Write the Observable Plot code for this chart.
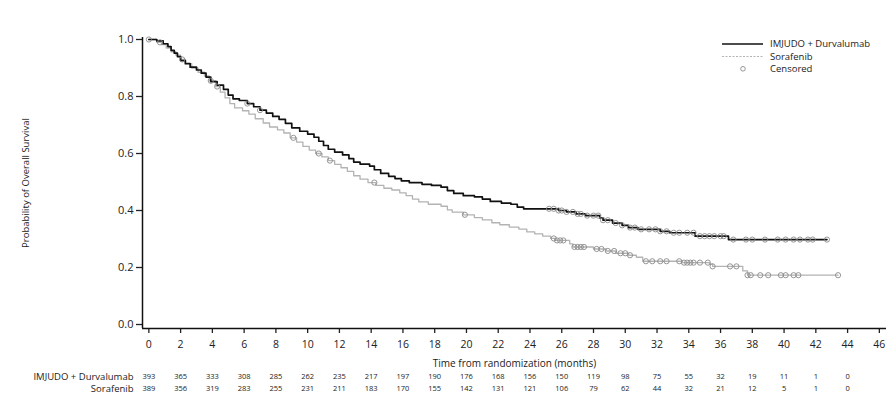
<!DOCTYPE html>
<html><head><meta charset="utf-8">
<script src="https://cdn.jsdelivr.net/npm/d3@7"></script>
<script src="https://cdn.jsdelivr.net/npm/@observablehq/plot@0.6"></script>
<style>body{margin:0;background:#fff;} #chart{width:896px;height:398px;}</style>
</head><body><div id="chart"></div>
<script>
// ---- data ----
const imjudoTimes = [0,0.5,0.9,1.2,1.4,1.6,1.8,2.0,2.3,2.6,3.0,3.3,3.6,3.9,4.3,4.7,5.0,5.3,5.7,6.2,6.6,7.0,7.4,7.8,8.2,8.6,9.0,9.5,10.0,10.4,10.7,11.0,11.3,11.7,12.2,12.6,12.9,13.3,13.9,14.2,14.6,15.1,15.5,15.9,16.4,17.2,17.8,18.4,18.8,19.2,19.8,20.5,21.0,21.5,22.2,22.8,23.2,23.6,25.8,26.3,26.9,27.5,28.4,28.6,29.2,29.8,30.2,30.8,32.2,32.8,34.4,36.5,42.7];
const imjudoSurv  = [1.0,0.995,0.985,0.975,0.962,0.952,0.94,0.926,0.915,0.903,0.893,0.882,0.868,0.852,0.84,0.825,0.805,0.792,0.786,0.775,0.764,0.752,0.742,0.73,0.72,0.706,0.69,0.678,0.668,0.657,0.643,0.628,0.615,0.605,0.595,0.582,0.57,0.563,0.556,0.543,0.53,0.52,0.512,0.504,0.498,0.492,0.488,0.482,0.47,0.46,0.452,0.448,0.44,0.432,0.426,0.422,0.412,0.406,0.4,0.395,0.388,0.382,0.374,0.366,0.356,0.348,0.34,0.334,0.327,0.322,0.31,0.298,0.298];
const sorafenibTimes = [0,0.5,0.8,1.1,1.4,1.7,2.0,2.3,2.7,3.1,3.5,3.8,4.2,4.5,4.8,5.1,5.4,5.9,6.3,6.7,7.2,7.6,8.1,8.5,8.9,9.3,9.7,10.1,10.5,10.9,11.3,11.7,12.1,12.5,12.9,13.3,13.8,14.3,14.8,15.3,15.8,16.2,16.6,17.0,17.6,18.4,18.8,19.1,19.8,20.5,21.0,21.6,22.1,22.7,23.3,23.8,24.3,24.8,25.3,25.6,26.5,26.7,28.0,28.8,29.4,30.2,30.7,31.1,33.6,35.3,35.5,37.4,37.7,43.4];
const sorafenibSurv  = [1.0,0.99,0.982,0.97,0.957,0.945,0.93,0.915,0.9,0.885,0.872,0.855,0.835,0.815,0.795,0.775,0.76,0.75,0.738,0.722,0.707,0.693,0.683,0.672,0.655,0.64,0.625,0.612,0.6,0.588,0.575,0.562,0.55,0.537,0.522,0.51,0.498,0.488,0.478,0.472,0.462,0.452,0.44,0.43,0.422,0.415,0.402,0.394,0.385,0.375,0.367,0.357,0.35,0.342,0.335,0.325,0.318,0.31,0.302,0.295,0.283,0.272,0.265,0.258,0.25,0.243,0.236,0.222,0.217,0.212,0.204,0.188,0.173,0.173];
const imjudoCensored = [6.2,7.0,25.2,25.5,25.8,26.0,26.3,26.7,27.0,27.2,27.6,28.0,28.3,28.6,28.9,29.4,29.8,30.3,30.6,31.0,31.5,31.9,32.2,32.6,33.05,33.4,33.9,34.3,34.7,35.0,35.3,35.6,36.0,36.2,36.8,37.6,38.0,38.8,39.6,40.1,40.6,41.0,41.5,41.8,42.7];
const sorafenibCensored = [0,0.7,2.1,3.9,4.3,9.1,10.7,11.4,14.2,19.9,25.5,25.7,25.9,26.1,26.8,27.0,27.2,27.4,28.2,28.5,28.9,29.3,29.7,30.0,30.3,31.3,31.7,32.2,32.6,33.4,33.7,33.9,34.1,34.3,34.7,35.2,35.5,36.6,37.0,37.7,37.9,38.5,39.0,39.8,40.1,40.6,40.9,43.4];
const riskTimes = [0,2,4,6,8,10,12,14,16,18,20,22,24,26,28,30,32,34,36,38,40,42,44];
const riskImjudo = [393,365,333,308,285,262,235,217,197,190,176,168,156,150,119,98,75,55,32,19,11,1,0];
const riskSorafenib = [389,356,319,283,255,231,211,183,170,155,142,131,121,106,79,62,44,32,21,12,5,1,0];
const xTicks = [0,2,4,6,8,10,12,14,16,18,20,22,24,26,28,30,32,34,36,38,40,42,44,46];
const yTicks = [0,0.2,0.4,0.6,0.8,1.0];
const armNames = ["IMJUDO + Durvalumab", "Sorafenib"];

// ---- tables built from the arrays ----
const xDomain = [-0.4, 46.45];
const yDomain = [-0.014, 1.007];
const imjudoLine = imjudoTimes.map((t, i) => ({t, s: imjudoSurv[i]}));
const sorafenibLine = sorafenibTimes.map((t, i) => ({t, s: sorafenibSurv[i]}));
function survAt(times, surv, t) {
  let k = 0;
  for (let i = 0; i < times.length; i++) if (times[i] <= t) k = i;
  return surv[k];
}
const censorPts = [
  ...imjudoCensored.map(t => ({t, s: survAt(imjudoTimes, imjudoSurv, t)})),
  ...sorafenibCensored.map(t => ({t, s: survAt(sorafenibTimes, sorafenibSurv, t)}))
];
const riskRow1 = riskTimes.map((t, i) => ({t, n: String(riskImjudo[i])}));
const riskRow2 = riskTimes.map((t, i) => ({t, n: String(riskSorafenib[i])}));

const font = "'Open Sans', 'Noto Sans', sans-serif";
const chart = Plot.plot({
  width: 896, height: 398,
  marginLeft: 142, marginRight: 10, marginTop: 37, marginBottom: 70,
  style: {fontFamily: font, color: "#222", background: "#fff"},
  x: {domain: xDomain},
  y: {domain: yDomain},
  marks: [
    Plot.axisX(xTicks, {tickSize: 5, tickPadding: 7, fontSize: 10.5, label: null, tickFormat: d => String(d), strokeWidth: 1.3}),
    Plot.axisY(yTicks, {tickSize: 6, tickPadding: 3, fontSize: 11, label: null, tickFormat: d3.format(".1f"), strokeWidth: 1.3}),
    Plot.ruleX([xDomain[0]], {stroke: "#111", strokeWidth: 1.5}),
    Plot.ruleY([yDomain[0]], {stroke: "#111", strokeWidth: 1.5}),
    Plot.line(sorafenibLine, {x: "t", y: "s", curve: "step-after", stroke: "#b3b3b3", strokeWidth: 1.3}),
    Plot.line(imjudoLine, {x: "t", y: "s", curve: "step-after", stroke: "#111", strokeWidth: 1.7}),
    Plot.dot(censorPts, {x: "t", y: "s", r: 2.6, stroke: "#8a8a8a", fill: "none", strokeWidth: 0.9}),
    Plot.text(["Time from randomization (months)"], {frameAnchor: "bottom", dy: 35, lineAnchor: "middle", textAnchor: "middle", fontSize: 10, fill: "#222"}),
    Plot.text(["Probability of Overall Survival"], {frameAnchor: "left", dx: -117, rotate: -90, textAnchor: "middle", lineAnchor: "middle", fontSize: 9.5, fill: "#222"}),
    Plot.text(riskRow1, {x: "t", text: "n", frameAnchor: "bottom", dy: 48.5, lineAnchor: "middle", fontSize: 7.5, fill: "#222"}),
    Plot.text(riskRow2, {x: "t", text: "n", frameAnchor: "bottom", dy: 60.5, lineAnchor: "middle", fontSize: 7.5, fill: "#222"}),
    Plot.text([armNames[0]], {frameAnchor: "bottom-left", dx: -9, dy: 48.5, lineAnchor: "middle", textAnchor: "end", fontSize: 9.5, fill: "#222"}),
    Plot.text([armNames[1]], {frameAnchor: "bottom-left", dx: -9, dy: 60.5, lineAnchor: "middle", textAnchor: "end", fontSize: 9.5, fill: "#222"})
  ]
});
document.getElementById("chart").append(chart);

// legend inside the plot area (top right)
const svg = d3.select(chart);
const lg = svg.append("g").attr("font-family", font).attr("font-size", 9.5).attr("fill", "#222").attr("text-anchor", "start");
lg.append("line").attr("x1", 722).attr("x2", 763).attr("y1", 44).attr("y2", 44).attr("stroke", "#111").attr("stroke-width", 1.7);
lg.append("text").attr("x", 770).attr("y", 44).attr("dy", "0.35em").attr("text-anchor", "start").text(armNames[0]);
lg.append("line").attr("x1", 722).attr("x2", 763).attr("y1", 56.5).attr("y2", 56.5).attr("stroke", "#b3b3b3").attr("stroke-width", 1.2).attr("stroke-dasharray", "2,1.5");
lg.append("text").attr("x", 770).attr("y", 56.5).attr("dy", "0.35em").attr("text-anchor", "start").text(armNames[1]);
lg.append("circle").attr("cx", 743).attr("cy", 68.8).attr("r", 2.3).attr("fill", "none").attr("stroke", "#8a8a8a").attr("stroke-width", 0.9);
lg.append("text").attr("x", 770).attr("y", 68.8).attr("dy", "0.35em").attr("text-anchor", "start").text("Censored");
</script></body></html>
